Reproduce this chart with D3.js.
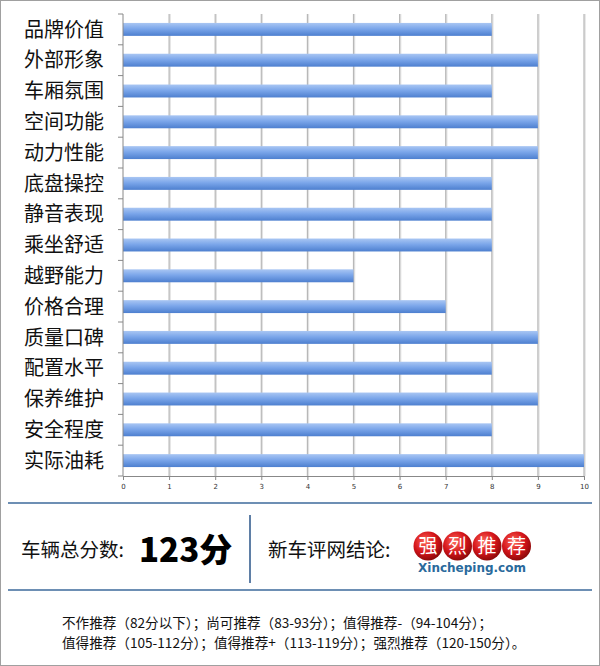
<!DOCTYPE html>
<html><head><meta charset="utf-8">
<script src="https://cdn.jsdelivr.net/npm/d3@7"></script>
<style>body{margin:0;background:#fff}svg{display:block}</style>
</head><body>
<svg id="c" width="600" height="666"></svg>
<script>
const categories = ["品牌价值","外部形象","车厢氛围","空间功能","动力性能","底盘操控","静音表现","乘坐舒适","越野能力","价格合理","质量口碑","配置水平","保养维护","安全程度","实际油耗"];
const values = [8,9,8,9,9,8,8,8,5,7,9,8,9,8,10];
const xTicks = [0,1,2,3,4,5,6,7,8,9,10];
const totalLabel = "车辆总分数:";
const totalScore = "123分";
const conclusionLabel = "新车评网结论:";
const logoChars = ["强","烈","推","荐"];
const logoText = "Xincheping.com";
const footerLines = ["不作推荐（82分以下）；尚可推荐（83-93分）；值得推荐-（94-104分）；",
                     "值得推荐（105-112分）；值得推荐+（113-119分）；强烈推荐（120-150分）。"];

const svg = d3.select("#c");
const font = "'Noto Sans CJK SC','Microsoft YaHei',sans-serif";
const defs = svg.append("defs");
const g1 = defs.append("linearGradient").attr("id","bar").attr("x1",0).attr("y1",0).attr("x2",0).attr("y2",1);
g1.append("stop").attr("offset","0%").attr("stop-color","#a9c6f3");
g1.append("stop").attr("offset","45%").attr("stop-color","#7ba6ea");
g1.append("stop").attr("offset","100%").attr("stop-color","#4d7fcf");
const g2 = defs.append("radialGradient").attr("id","ball").attr("cx","40%").attr("cy","35%").attr("r","65%");
g2.append("stop").attr("offset","0%").attr("stop-color","#ff6a5a");
g2.append("stop").attr("offset","60%").attr("stop-color","#d4141a");
g2.append("stop").attr("offset","100%").attr("stop-color","#8e0a0a");

// outer border
svg.append("rect").attr("x",0.5).attr("y",0.5).attr("width",599).attr("height",665)
  .attr("fill","#fff").attr("stroke","#a0a0a0");

const x = d3.scaleLinear().domain([0,10]).range([123,584]);
const y = d3.scaleBand().domain(categories).range([14,476]).paddingInner(0.58).paddingOuter(0.29);

// grid lines
svg.append("g").selectAll("line").data(xTicks.slice(1)).join("line")
  .attr("x1",d=>x(d)+1).attr("x2",d=>x(d)+1).attr("y1",14).attr("y2",476)
  .attr("stroke","#e2e2e2").attr("stroke-width",1.5);
svg.append("g").selectAll("line").data(xTicks.slice(1)).join("line")
  .attr("x1",d=>x(d)).attr("x2",d=>x(d)).attr("y1",14).attr("y2",476)
  .attr("stroke","#b8b8b8").attr("stroke-width",1.2);

// bars
svg.append("g").selectAll("rect").data(values).join("rect")
  .attr("x",x(0)).attr("y",(d,i)=>y(categories[i]))
  .attr("width",d=>x(d)-x(0)).attr("height",y.bandwidth())
  .attr("fill","url(#bar)");

// left axis
const yb = d3.scaleLinear().domain([0,15]).range([14,476]);
svg.append("line").attr("x1",123).attr("x2",123).attr("y1",14).attr("y2",476).attr("stroke","#888");
svg.append("g").selectAll("line").data(d3.range(16)).join("line")
  .attr("x1",118).attr("x2",123).attr("y1",d=>yb(d)).attr("y2",d=>yb(d)).attr("stroke","#888");
svg.append("g").selectAll("text").data(categories).join("text")
  .attr("x",104).attr("y",d=>y(d)+y.bandwidth()/2).attr("dy","0.36em")
  .attr("text-anchor","end").attr("font-family",font).attr("font-size",20).attr("fill","#111").text(d=>d);

// bottom axis
const xAxis = d3.axisBottom(x).tickValues(xTicks).tickSize(4).tickPadding(4);
const ax = svg.append("g").attr("transform","translate(0,476)").call(xAxis);
ax.select(".domain").attr("stroke","#888");
ax.selectAll(".tick line").attr("stroke","#888");
ax.selectAll("text").attr("font-family","Verdana,'DejaVu Sans',sans-serif").attr("font-size",7).attr("fill","#333");

// separators
svg.append("line").attr("x1",8).attr("x2",592).attr("y1",503).attr("y2",503).attr("stroke","#6d8fb4").attr("stroke-width",2);
svg.append("line").attr("x1",8).attr("x2",592).attr("y1",590).attr("y2",590).attr("stroke","#6d8fb4").attr("stroke-width",2);
svg.append("line").attr("x1",250).attr("x2",250).attr("y1",515).attr("y2",583).attr("stroke","#5f7fa6").attr("stroke-width",2);

svg.append("text").attr("x",21).attr("y",557).attr("font-family",font).attr("font-size",19.5).attr("fill","#111").text(totalLabel);
svg.append("text").attr("x",139).attr("y",562).attr("font-family","'Noto Sans CJK SC',sans-serif").attr("font-weight",900)
  .attr("font-size",33).attr("fill","#000").text(totalScore);
svg.append("text").attr("x",268).attr("y",557).attr("font-family",font).attr("font-size",19.5).attr("fill","#111").text(conclusionLabel);

// logo
const lg = svg.append("g");
lg.selectAll("circle").data(logoChars).join("circle")
  .attr("cx",(d,i)=>428+i*29.5).attr("cy",546).attr("r",14.5).attr("fill","url(#ball)");
lg.selectAll("text.ch").data(logoChars).join("text").attr("class","ch")
  .attr("x",(d,i)=>428+i*29.5).attr("y",546).attr("dy","0.36em").attr("text-anchor","middle")
  .attr("font-family",font).attr("font-size",19).attr("fill","#fff").text(d=>d);
lg.append("text").attr("x",472).attr("y",572).attr("text-anchor","middle")
  .attr("font-family","Verdana,'DejaVu Sans',sans-serif").attr("font-weight","bold").attr("font-size",12)
  .attr("fill","#2a6a9c").text(logoText);

// footer
svg.append("g").selectAll("text").data(footerLines).join("text")
  .attr("x",62).attr("y",(d,i)=>628+i*20).attr("font-family",font).attr("font-size",13.6).attr("fill","#111").text(d=>d);
</script>
</body></html>
